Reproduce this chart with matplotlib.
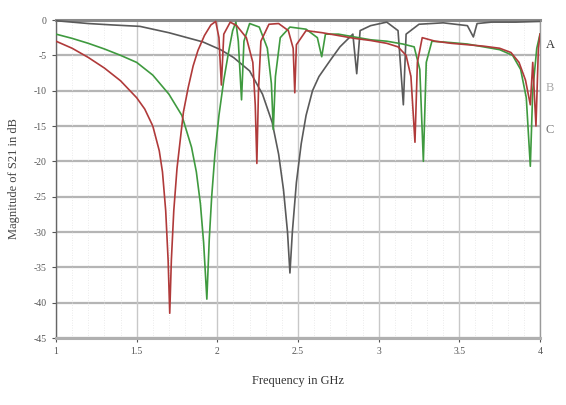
import matplotlib
matplotlib.use("Agg")
import matplotlib.pyplot as plt

# ---- data (frequency in GHz, |S21| in dB) ----
freq_a = [1.00, 1.10, 1.20, 1.30, 1.40, 1.50, 1.55, 1.60, 1.64, 1.66, 1.68, 1.695, 1.705, 1.715, 1.73,
          1.75, 1.77, 1.79, 1.82, 1.85, 1.88, 1.92, 1.96, 1.99, 2.01, 2.025, 2.04, 2.08, 2.12, 2.18,
          2.22, 2.235, 2.245, 2.255, 2.27, 2.32, 2.38, 2.44, 2.47, 2.48, 2.49, 2.55, 2.65, 2.75, 2.85,
          2.95, 3.05, 3.12, 3.17, 3.20, 3.225, 3.24, 3.27, 3.35, 3.45, 3.55, 3.65, 3.75, 3.82, 3.87,
          3.91, 3.94, 3.955, 3.975, 3.99, 4.00]
s21_a = [-3.0, -4.0, -5.3, -6.8, -8.6, -11.0, -12.6, -15.0, -18.5, -21.5, -27.0, -34.0, -41.5, -34.0, -27.0,
         -21.0, -17.0, -13.0, -9.5, -6.5, -4.3, -2.2, -0.7, -0.2, -2.5, -9.2, -2.0, -0.3, -0.8, -2.5,
         -6.0, -12.0, -20.3, -10.0, -3.0, -0.6, -0.5, -1.5, -4.0, -10.3, -3.5, -1.5, -1.8, -2.2, -2.6,
         -2.9, -3.3, -3.8, -5.0, -8.0, -17.3, -6.0, -2.5, -3.0, -3.3, -3.5, -3.7, -4.0, -4.6, -6.0,
         -8.5, -12.0, -6.0, -15.0, -4.0, -2.0]

freq_b = [1.00, 1.10, 1.20, 1.30, 1.40, 1.50, 1.60, 1.70, 1.78, 1.84, 1.87, 1.895, 1.915, 1.935, 1.95,
          1.965, 1.985, 2.01, 2.04, 2.07, 2.095, 2.115, 2.13, 2.15, 2.165, 2.20, 2.26, 2.31, 2.335, 2.347,
          2.36, 2.39, 2.45, 2.55, 2.62, 2.647, 2.67, 2.75, 2.85, 2.95, 3.05, 3.15, 3.22, 3.255, 3.277,
          3.295, 3.33, 3.45, 3.55, 3.65, 3.75, 3.83, 3.88, 3.915, 3.94, 3.955, 3.98, 4.00]
s21_b = [-2.0, -2.6, -3.3, -4.1, -5.0, -6.0, -7.8, -10.5, -13.5, -18.0, -21.5, -26.0, -31.5, -39.5, -31.0,
         -25.0, -19.0, -13.5, -8.5, -4.5, -1.5, -0.3, -3.0, -11.3, -3.0, -0.5, -1.0, -4.0, -9.0, -15.5,
         -8.0, -2.5, -1.0, -1.3, -2.5, -5.2, -2.0, -2.0, -2.4, -2.8, -3.0, -3.4, -3.8, -7.0, -20.0,
         -6.0, -3.0, -3.2, -3.4, -3.8, -4.2, -5.0, -7.0, -11.0, -20.7, -10.0, -4.0, -2.0]

freq_c = [1.00, 1.10, 1.20, 1.35, 1.52, 1.70, 1.91, 2.02, 2.10, 2.20, 2.28, 2.34, 2.38, 2.41, 2.435,
          2.45, 2.465, 2.49, 2.52, 2.55, 2.59, 2.63, 2.70, 2.76, 2.84, 2.864, 2.885, 2.95, 3.05, 3.12,
          3.153, 3.17, 3.25, 3.40, 3.55, 3.587, 3.61, 3.70, 3.85, 4.00]
s21_c = [-0.1, -0.3, -0.5, -0.7, -0.9, -1.8, -3.1, -4.2, -5.3, -7.2, -10.5, -14.5, -19.0, -24.0, -30.0,
         -35.8, -30.0, -23.0, -17.5, -13.5, -10.0, -8.0, -5.7, -3.8, -2.0, -7.6, -1.5, -0.8, -0.3, -1.5,
         -12.0, -2.0, -0.6, -0.4, -0.8, -2.4, -0.5, -0.3, -0.3, -0.2]

series_names = ["A", "B", "C"]
x_ticks = [1, 1.5, 2, 2.5, 3, 3.5, 4]
x_tick_labels = ["1", "1.5", "2", "2.5", "3", "3.5", "4"]
y_ticks = [0, -5, -10, -15, -20, -25, -30, -35, -40, -45]
y_tick_labels = ["0", "-5", "-10", "-15", "-20", "-25", "-30", "-35", "-40", "-45"]

# ---- style ----
col_a = "#b03a3a"
col_b = "#3f9a3f"
col_c = "#5a5a5a"

plt.rcParams['font.family'] = ['Liberation Serif', 'DejaVu Serif']

fig = plt.figure(figsize=(5.66, 4.05), dpi=100)
ax = fig.add_axes([56/566, 1 - 338/405, (540-56)/566, (338-20)/405])

# grid
for yv in y_ticks:
    ax.axhline(yv, color="#b5b5b5", lw=1.6, zorder=1)
for xv in x_ticks:
    ax.axvline(xv, color="#c8c8c8", lw=1.0, zorder=1)
for i in range(10, 40):
    xv = i / 10
    if i % 5 != 0:
        ax.axvline(xv, color="#e4e4e4", lw=0.6, ls=(0, (1, 2)), zorder=1)

ax.plot(freq_c, s21_c, color=col_c, lw=1.2, zorder=3)
ax.plot(freq_b, s21_b, color=col_b, lw=1.2, zorder=4)
ax.plot(freq_a, s21_a, color=col_a, lw=1.2, zorder=5)

ax.set_xlim(1, 4)
ax.set_ylim(-45, 0)
ax.set_xticks(x_ticks)
ax.set_xticklabels(x_tick_labels)
ax.set_yticks(y_ticks)
ax.set_yticklabels(y_tick_labels)
ax.tick_params(axis='both', labelsize=7, colors="#555555", length=3, width=0.8)

ax.spines["left"].set_color("#666666")
ax.spines["left"].set_linewidth(1.0)
ax.spines["top"].set_color("#8a8a8a")
ax.spines["top"].set_linewidth(2.2)
ax.spines["bottom"].set_color("#b0b0b0")
ax.spines["bottom"].set_linewidth(2.2)
ax.spines["right"].set_color("#9a9a9a")
ax.spines["right"].set_linewidth(1.0)

ax.set_xlabel("Frequency in GHz", fontsize=9, color="#333333", labelpad=14)
ax.set_ylabel("Magnitude of S21 in dB", fontsize=9, color="#444444", labelpad=10)

legend_y = [45, 88, 130]
legend_colors = ["#333333", "#aaaaaa", "#777777"]
for name, yp, c in zip(series_names, legend_y, legend_colors):
    fig.text(546/566, 1 - yp/405, name, fontsize=9, color=c, va="center", ha="left")

fig.savefig("out.png", dpi=100)
